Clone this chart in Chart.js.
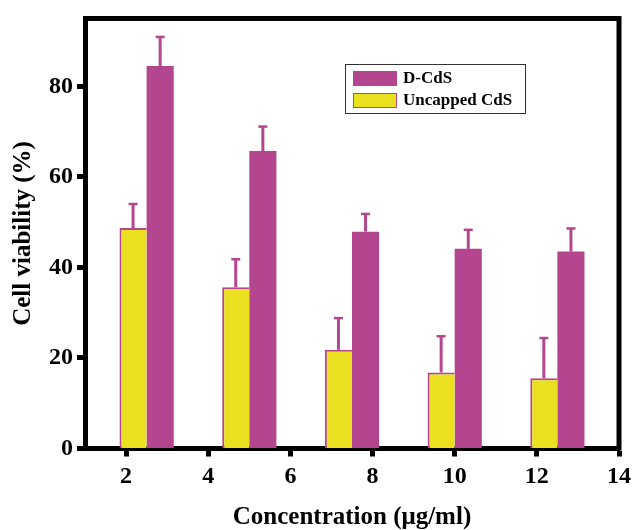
<!DOCTYPE html>
<html>
<head>
<meta charset="utf-8">
<script src="https://cdn.jsdelivr.net/npm/chart.js@4.4.0/dist/chart.umd.min.js"></script>
<style>
  html, body { margin: 0; padding: 0; background: #fff; }
  #wrap { width: 633px; height: 530px; }
</style>
</head>
<body>
<div id="wrap"><canvas id="viabilityChart"></canvas></div>
<script>
// concentrations where each pair of bars sits
var concentrations = [2.5, 5, 7.5, 10, 12.5];
var dcdsValues = [84.5, 65.7, 47.9, 44.1, 43.5];
var dcdsErrors = [6.4, 5.4, 3.9, 4.2, 5.1];
var uncappedValues = [48.7, 35.6, 21.8, 16.8, 15.5];
var uncappedErrors = [5.3, 6.2, 7.0, 8.0, 8.9];
var xTicks = [2, 4, 6, 8, 10, 12, 14];
var yTicks = [0, 20, 40, 60, 80];

var purple = '#b4458f';
var yellow = '#eae020';
var serif = '"Liberation Serif", "Times New Roman", serif';

function toPoints(values) {
    return concentrations.map(function (c, i) { return { x: c, y: values[i] }; });
}

// upward error bars with caps, drawn on top of the bars
var errorBars = {
    id: 'errorBars',
    afterDatasetsDraw: function (chart) {
        var ctx = chart.ctx;
        var yScale = chart.scales.y;
        ctx.save();
        ctx.strokeStyle = purple;
        chart.data.datasets.forEach(function (ds, di) {
            var meta = chart.getDatasetMeta(di);
            meta.data.forEach(function (bar, i) {
                var top = yScale.getPixelForValue(ds.data[i].y + ds.errors[i]);
                ctx.lineWidth = 3;
                ctx.beginPath();
                ctx.moveTo(bar.x, bar.y);
                ctx.lineTo(bar.x, top);
                ctx.stroke();
                ctx.lineWidth = 2.5;
                ctx.beginPath();
                ctx.moveTo(bar.x - 4.5, top);
                ctx.lineTo(bar.x + 4.5, top);
                ctx.stroke();
            });
        });
        ctx.restore();
    }
};

// top and right frame lines plus the boxed legend
var frameAndLegend = {
    id: 'frameAndLegend',
    afterDraw: function (chart) {
        var ctx = chart.ctx;
        var a = chart.chartArea;
        ctx.save();
        ctx.strokeStyle = '#000';
        ctx.lineWidth = 5;
        ctx.beginPath();
        ctx.moveTo(a.left - 2, a.top);
        ctx.lineTo(a.right, a.top);
        ctx.lineTo(a.right, a.bottom + 2);
        ctx.stroke();

        var bx = 345, by = 64, bw = 180, bh = 49;
        ctx.fillStyle = '#fff';
        ctx.fillRect(bx, by, bw, bh);
        ctx.lineWidth = 1;
        ctx.strokeStyle = '#333';
        ctx.strokeRect(bx + 0.5, by + 0.5, bw, bh);

        var items = [
            { label: 'D-CdS', color: purple },
            { label: 'Uncapped CdS', color: yellow }
        ];
        ctx.font = 'bold 17px ' + serif;
        ctx.textBaseline = 'middle';
        items.forEach(function (it, i) {
            var sy = by + 7 + i * 22;
            ctx.fillStyle = it.color;
            ctx.fillRect(bx + 8, sy, 44, 15);
            if (i === 1) {
                ctx.strokeStyle = purple;
                ctx.lineWidth = 1;
                ctx.strokeRect(bx + 8.5, sy + 0.5, 43, 14);
            }
            ctx.fillStyle = '#000';
            ctx.fillText(it.label, bx + 58, sy + 8);
        });
        ctx.restore();
    }
};

new Chart(document.getElementById('viabilityChart'), {
    type: 'bar',
    data: {
        datasets: [{
            label: 'Uncapped CdS',
            data: toPoints(uncappedValues),
            errors: uncappedErrors,
            backgroundColor: yellow,
            borderColor: purple,
            borderWidth: { left: 2, top: 2, right: 0, bottom: 0 },
            borderSkipped: false
        }, {
            label: 'D-CdS',
            data: toPoints(dcdsValues),
            errors: dcdsErrors,
            backgroundColor: purple,
            borderWidth: 0
        }]
    },
    options: {
        responsive: true,
        maintainAspectRatio: false,
        animation: false,
        categoryPercentage: 0.66,
        barPercentage: 1.0,
        layout: { padding: { top: 15.5, right: 14, left: 0, bottom: 0 } },
        plugins: {
            legend: { display: false },
            tooltip: { enabled: false }
        },
        scales: {
            x: {
                type: 'linear',
                min: 1,
                max: 14,
                offset: false,
                afterFit: function (scale) {
                    scale.height = 81.5;
                    scale.paddingLeft = 0;
                    scale.paddingRight = 0;
                },
                afterBuildTicks: function (scale) {
                    scale.ticks = xTicks.map(function (v) { return { value: v }; });
                },
                grid: {
                    offset: false,
                    drawOnChartArea: false,
                    drawTicks: true,
                    tickLength: 8,
                    tickWidth: 5,
                    tickColor: '#000'
                },
                border: { display: true, color: '#000', width: 5 },
                ticks: {
                    color: '#000',
                    padding: 6,
                    maxRotation: 0,
                    font: { family: serif, size: 24, weight: 'bold' }
                },
                title: {
                    display: true,
                    text: 'Concentration (\u03bcg/ml)',
                    color: '#000',
                    padding: { top: 0, bottom: 0 },
                    font: { family: serif, size: 25, weight: 'bold', lineHeight: 1 }
                }
            },
            y: {
                min: 0,
                max: 95,
                afterFit: function (scale) { scale.width = 85; },
                afterBuildTicks: function (scale) {
                    scale.ticks = yTicks.map(function (v) { return { value: v }; });
                },
                grid: {
                    drawOnChartArea: false,
                    drawTicks: true,
                    tickLength: 8,
                    tickWidth: 5,
                    tickColor: '#000'
                },
                border: { display: true, color: '#000', width: 5 },
                ticks: {
                    color: '#000',
                    padding: 4,
                    font: { family: serif, size: 24, weight: 'bold' }
                },
                title: {
                    display: true,
                    text: 'Cell viability (%)',
                    color: '#000',
                    padding: { top: 11, bottom: 0 },
                    font: { family: serif, size: 25, weight: 'bold', lineHeight: 1 }
                }
            }
        }
    },
    plugins: [errorBars, frameAndLegend]
});
</script>
</body>
</html>
